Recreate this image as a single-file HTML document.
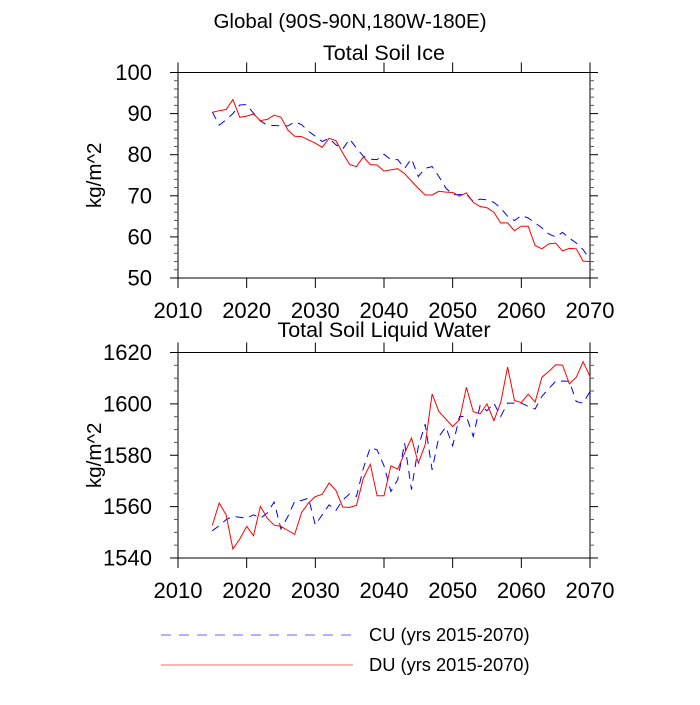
<!DOCTYPE html>
<html><head><meta charset="utf-8"><style>
html,body{margin:0;padding:0;background:#fff;}
svg text{font-family:"Liberation Sans",sans-serif;fill:#000;}
</style></head><body>
<svg id="chart" width="700" height="700" viewBox="0 0 700 700">
<text x="350" y="28" font-size="20.5" text-anchor="middle">Global (90S-90N,180W-180E)</text>
<g id="legend">
<line x1="161" y1="635" x2="353" y2="635" stroke="#0000ff" stroke-opacity="0.6" stroke-width="1" stroke-dasharray="10,8"/>
<text x="369" y="641" font-size="18.3">CU (yrs 2015-2070)</text>
<line x1="161" y1="665" x2="353" y2="665" stroke="#ff0000" stroke-opacity="0.6" stroke-width="1"/>
<text x="369" y="671" font-size="18.3">DU (yrs 2015-2070)</text>
</g>
</svg>
<script>
const years = [];
for (let y = 2015; y <= 2070; y++) years.push(y);
const xTicks = [2010, 2020, 2030, 2040, 2050, 2060, 2070];
const iceTicks = [50, 60, 70, 80, 90, 100];
const liqTicks = [1540, 1560, 1580, 1600, 1620];
const iceDU = [90.3,90.7,91.0,93.4,89.1,89.4,89.9,88.3,88.6,89.6,89.1,86.0,84.5,84.4,83.6,82.8,81.8,84.0,83.4,80.4,77.6,77.1,79.5,77.6,77.5,76.0,76.3,76.6,75.4,73.6,71.8,70.2,70.2,71.1,70.9,70.8,69.9,70.7,68.4,67.4,67.1,66.0,63.4,63.4,61.5,62.6,62.6,57.9,57.1,58.3,58.5,56.6,57.2,57.1,54.1,54.0];
const iceCU = [90.4,87.2,88.5,90.0,92.1,92.2,90.1,88.2,87.2,87.1,87.0,87.0,88.0,87.3,85.7,84.5,83.2,84.0,82.4,81.4,83.8,81.6,79.6,78.9,78.8,80.1,78.8,78.8,76.7,79.0,74.7,76.7,77.1,74.7,71.9,70.3,70.3,70.4,68.6,69.2,69.0,68.4,67.0,65.0,64.0,65.2,64.6,63.4,62.2,60.7,60.0,61.1,59.7,58.5,56.9,54.5];
const liqDU = [1552.7,1561.4,1556.8,1543.5,1547.4,1552.3,1548.7,1560.1,1555.5,1552.8,1552.3,1550.7,1549.2,1557.7,1561.4,1563.9,1564.8,1569.2,1566.3,1559.8,1559.7,1560.5,1571.1,1576.5,1564.2,1564.2,1575.9,1574.6,1580.8,1586.7,1576.9,1584.1,1603.9,1597.0,1594.1,1591.2,1593.8,1606.5,1597.0,1596.1,1600.0,1593.5,1600.5,1614.3,1601.3,1600.5,1603.8,1600.7,1610.4,1612.6,1615.2,1615.1,1607.8,1610.4,1616.4,1610.7];
const liqCU = [1550.6,1552.6,1554.9,1556.2,1555.9,1555.5,1556.8,1555.5,1557.5,1561.8,1551.3,1556.2,1562.1,1562.4,1563.3,1552.9,1556.8,1560.7,1558.5,1562.6,1565.0,1564.0,1575.0,1583.0,1582.1,1575.9,1565.9,1570.5,1584.7,1566.6,1583.4,1592.1,1574.3,1587.3,1591.0,1583.7,1595.1,1595.1,1587.3,1599.4,1597.3,1600.3,1595.1,1600.3,1600.3,1600.3,1599.0,1598.0,1602.9,1606.0,1608.8,1608.9,1608.8,1600.9,1600.3,1604.8];

const NS = "http://www.w3.org/2000/svg";
const svg = document.getElementById('chart');
function mk(tag, attrs, parent) {
  const e = document.createElementNS(NS, tag);
  for (const k in attrs) e.setAttribute(k, attrs[k]);
  (parent || svg).appendChild(e);
  return e;
}
function panel(opt) {
  const L = 178, R = 590, T = opt.top, B = opt.top + 205.5;
  const x = v => L + (v - 2010) / 60 * (R - L);
  const y = v => B - (v - opt.ymin) / (opt.ymax - opt.ymin) * (B - T);
  const g = mk('g', {});
  
  
  const fr = mk('rect', {x: L, y: T, width: R - L, height: B - T, fill: 'none', stroke: '#000', 'stroke-width': 1}, g);
  
  
  xTicks.forEach(t => {
    const xx = x(t);
    mk('line', {x1: xx, y1: B, x2: xx, y2: B + 10, stroke: '#000'}, g);
    mk('line', {x1: xx, y1: T, x2: xx, y2: T - 10, stroke: '#000'}, g);
    const lb = mk('text', {x: xx, y: B + 40, 'font-size': 22, 'text-anchor': 'middle'}, g);
    lb.textContent = t;
    
    
  });
  const yt = opt.ticks;
  for (let i = 0; i < yt.length; i++) {
    const yy = y(yt[i]);
    mk('line', {x1: L, y1: yy, x2: L - 8, y2: yy, stroke: '#000'}, g);
    mk('line', {x1: R, y1: yy, x2: R + 8, y2: yy, stroke: '#000'}, g);
    const lb = mk('text', {x: L - 26, y: yy + 7.5, 'font-size': 22, 'text-anchor': 'end'}, g);
    lb.textContent = yt[i];
    
    
    if (i < yt.length - 1) {
      const step = (yt[i + 1] - yt[i]) / (opt.minor + 1);
      for (let k = 1; k <= opt.minor; k++) {
        const my = y(yt[i] + k * step);
        mk('line', {x1: L, y1: my, x2: L - 4, y2: my, stroke: '#555'}, g);
        mk('line', {x1: R, y1: my, x2: R + 4, y2: my, stroke: '#555'}, g);
      }
    }
  }
  const ti = mk('text', {x: 384, y: opt.titleY, 'font-size': 21.5, 'text-anchor': 'middle'}, g);
  ti.textContent = opt.title;
  
  
  const cy = (T + B) / 2;
  const yl = mk('text', {x: 101, y: cy, 'font-size': 20.5, 'text-anchor': 'middle', transform: 'rotate(-90 101 ' + cy + ')'}, g);
  yl.textContent = 'kg/m^2';
  
  
  const pts = arr => arr.map((v, i) => x(years[i]).toFixed(1) + ',' + y(v).toFixed(1)).join(' ');
  const cu = mk('polyline', {points: pts(opt.cu), fill: 'none', stroke: '#0000ff', 'stroke-width': 1, 'stroke-dasharray': '8,6'}, g);
  
  
  const du = mk('polyline', {points: pts(opt.du), fill: 'none', stroke: '#ff0000', 'stroke-width': 1}, g);
  
  
}
panel({name: 'soil-ice-panel', top: 72.5, ymin: 50, ymax: 100, ticks: iceTicks, minor: 4, title: 'Total Soil Ice', titleY: 60, cu: iceCU, du: iceDU});
panel({name: 'soil-liquid-panel', top: 352.5, ymin: 1540, ymax: 1620, ticks: liqTicks, minor: 3, title: 'Total Soil Liquid Water', titleY: 337, cu: liqCU, du: liqDU});
</script>
</body></html>
